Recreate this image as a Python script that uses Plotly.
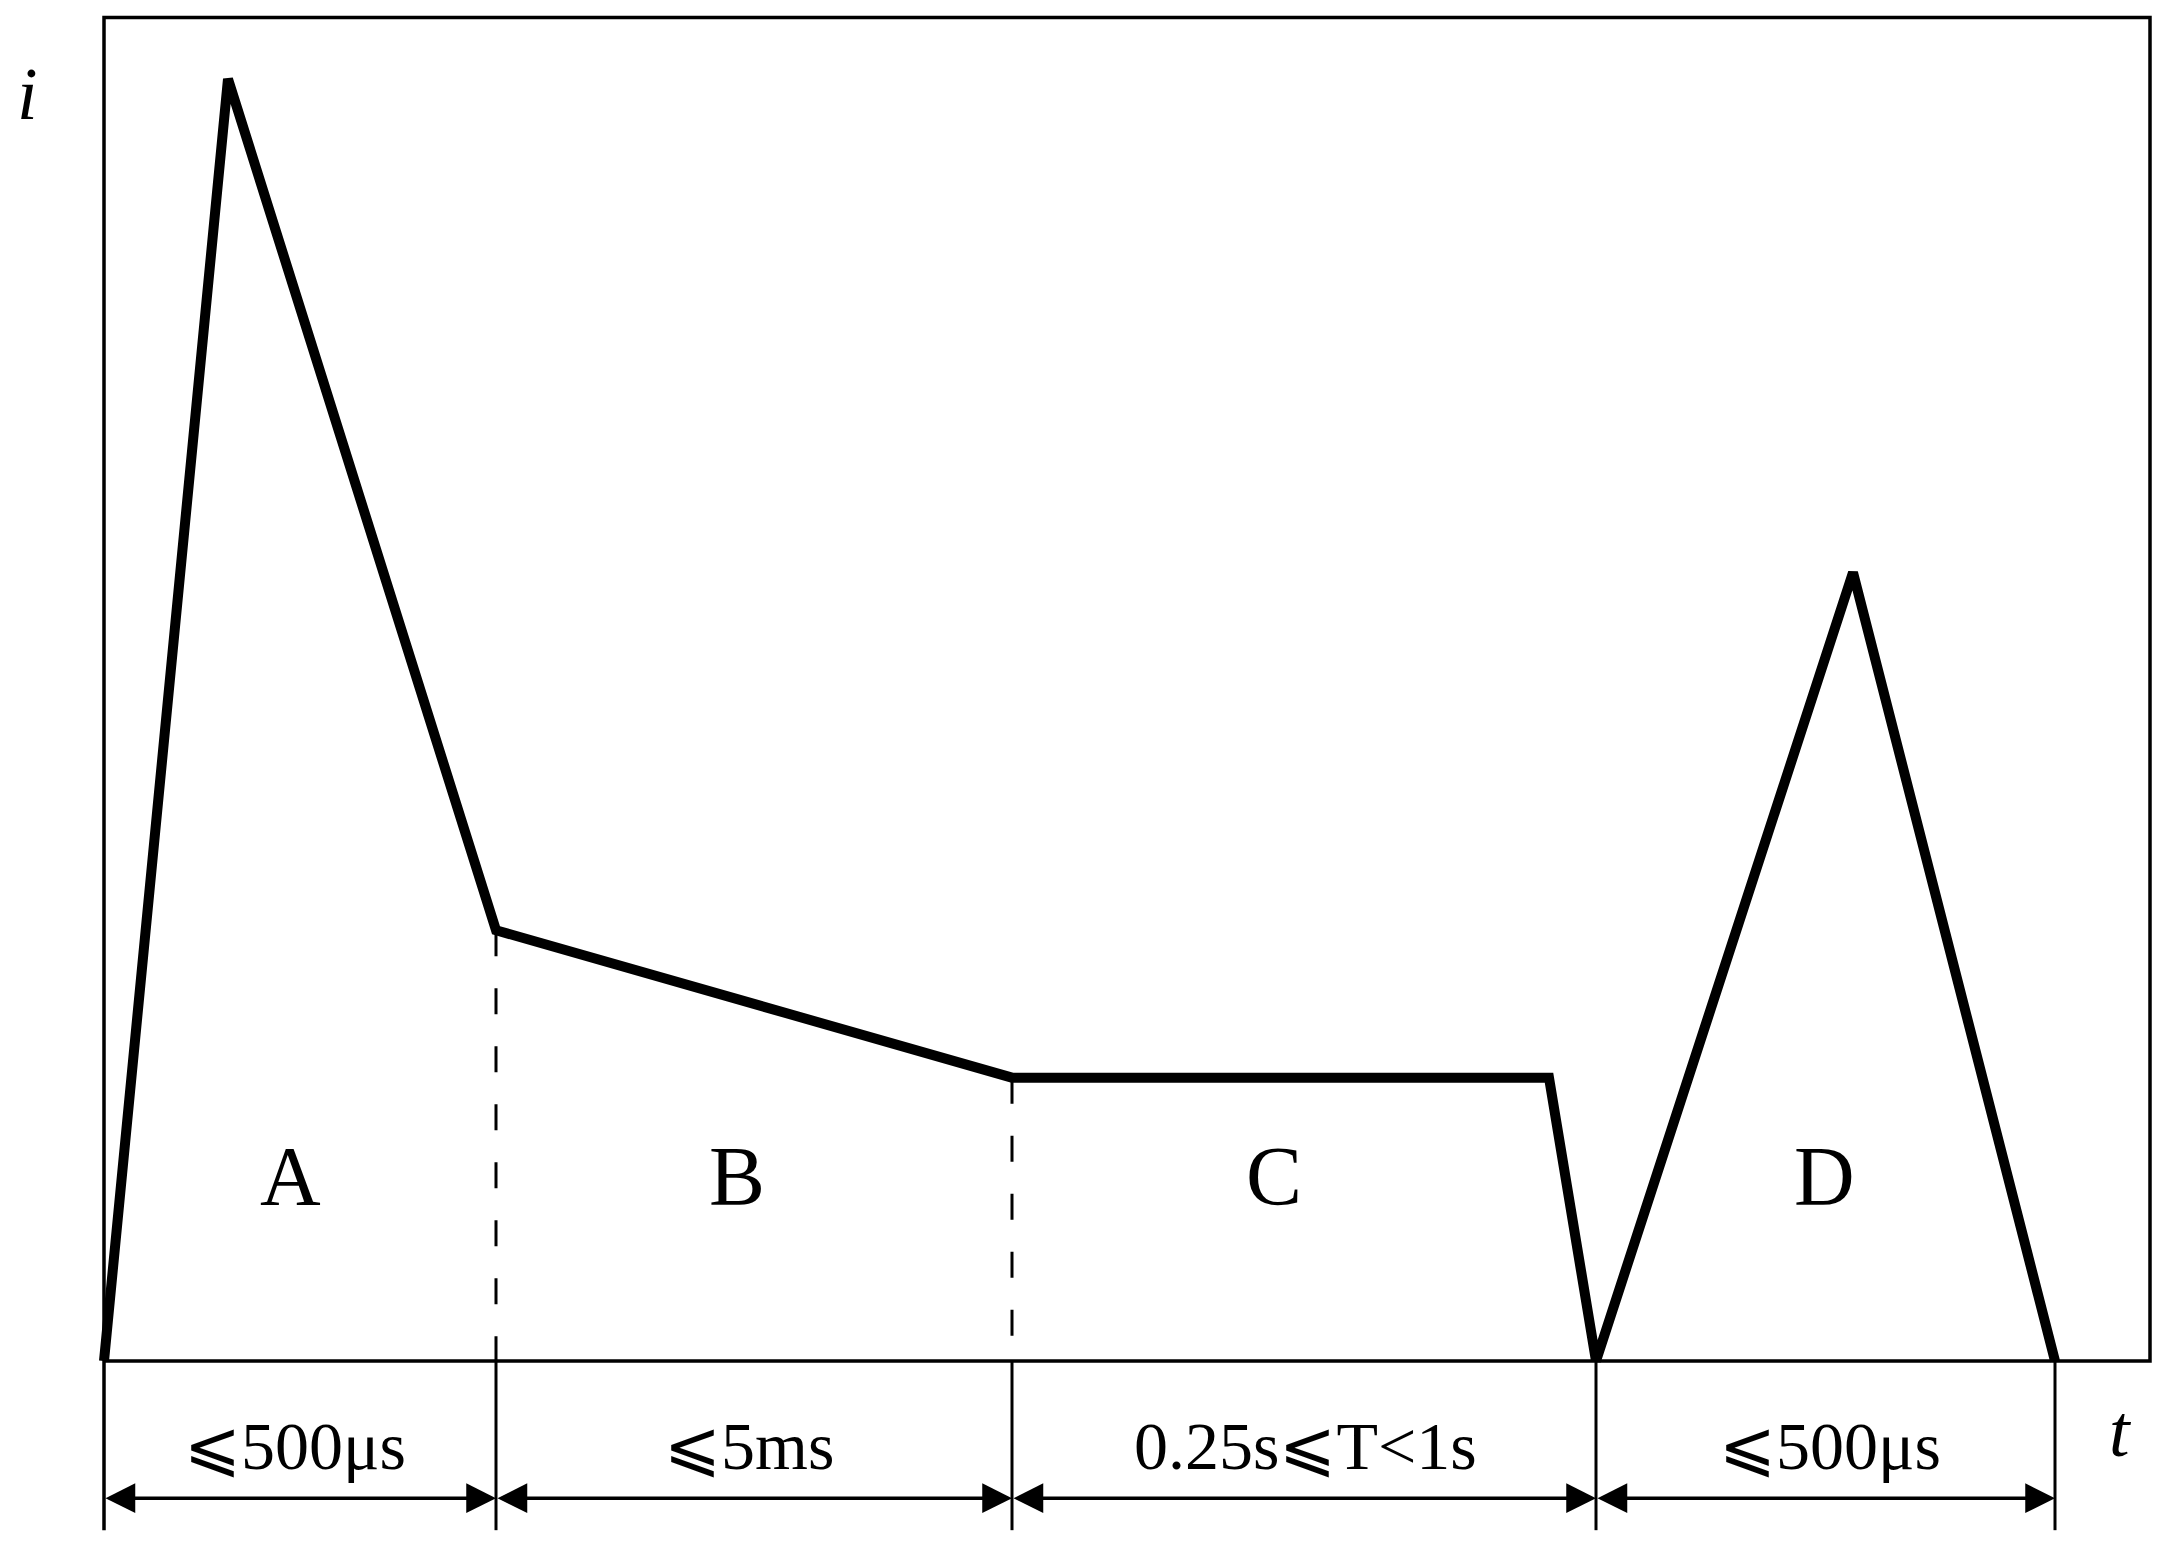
import plotly.graph_objects as go

# waveform corners (t: arbitrary time units, i: % of first peak)
t_wave = [0, 12.4, 39.2, 90.8, 144.5, 149.2, 174.9, 195.1]
i_wave = [0, 100, 33.6, 22.1, 22.1, 0, 61.5, 0]

# boundaries between the four stages
t_bounds = [0, 39.2, 90.8, 149.2, 195.1]
i_bounds = [0, 33.6, 22.1, 0, 0]

region_labels = ["A", "B", "C", "D"]
region_label_t = [18.6, 63.3, 117.0, 172.0]

duration_labels = ["⩽500μs", "⩽5ms", "0.25s⩽T<1s", "⩽500μs"]
duration_label_t = [19.1, 64.5, 120.1, 172.6]

# frame / layout constants
T_MAX = 204.6      # right edge of the box
I_TOP = 104.8      # top edge of the box
I_DIM = -10.7      # height of the dimension arrows
I_EXT = -13.2      # bottom of the extension lines

FONT = "Liberation Serif, DejaVu Serif, Noto Sans CJK SC, serif"
BLACK = "#000000"

fig = go.Figure()

# frame: top, right, bottom (t axis) and left (i axis, extended down)
fig.add_trace(go.Scatter(
    x=[0, 0, T_MAX, T_MAX, 0],
    y=[I_EXT, I_TOP, I_TOP, 0, 0],
    mode="lines",
    line=dict(color=BLACK, width=3.5),
    hoverinfo="skip",
    showlegend=False
))

# dashed guide lines from the knees down to the axis
for t, i in zip(t_bounds, i_bounds):
    if i > 0:
        fig.add_trace(go.Scatter(
            x=[t, t], y=[i, 0],
            mode="lines",
            line=dict(color=BLACK, width=3, dash="26px,32px"),
            hoverinfo="skip",
            showlegend=False
        ))

# solid extension lines below the axis
for t in t_bounds[1:]:
    fig.add_trace(go.Scatter(
        x=[t, t], y=[0, I_EXT],
        mode="lines",
        line=dict(color=BLACK, width=3),
        hoverinfo="skip",
        showlegend=False
    ))

# the current waveform
fig.add_trace(go.Scatter(
    x=t_wave, y=i_wave,
    mode="lines",
    line=dict(color=BLACK, width=10),
    hoverinfo="skip",
    showlegend=False
))

# dimension arrows between the boundaries
for t0, t1 in zip(t_bounds[:-1], t_bounds[1:]):
    fig.add_annotation(
        x=t1, y=I_DIM, ax=t0, ay=I_DIM,
        xref="x", yref="y", axref="x", ayref="y",
        text="", showarrow=True,
        arrowhead=2, arrowside="end+start",
        arrowsize=1.7, arrowwidth=3.5, arrowcolor=BLACK,
        standoff=0, startstandoff=0
    )

# stage letters
for label, t in zip(region_labels, region_label_t):
    fig.add_annotation(
        x=t, y=14.4, xref="x", yref="y",
        text=label, showarrow=False,
        font=dict(family=FONT, size=84, color=BLACK)
    )

# durations
for label, t in zip(duration_labels, duration_label_t):
    fig.add_annotation(
        x=t, y=-6.6, xref="x", yref="y",
        text=label, showarrow=False,
        font=dict(family=FONT, size=68, color=BLACK)
    )

# axis names
fig.add_annotation(
    x=-7.7, y=98.8, xref="x", yref="y",
    text="<i>i</i>", showarrow=False,
    font=dict(family=FONT, size=74, color=BLACK)
)
fig.add_annotation(
    x=201.6, y=-5.5, xref="x", yref="y",
    text="<i>t</i>", showarrow=False,
    font=dict(family=FONT, size=74, color=BLACK)
)

fig.update_layout(
    width=2167,
    height=1553,
    margin=dict(l=0, r=0, t=0, b=0),
    paper_bgcolor="white",
    plot_bgcolor="white",
    xaxis=dict(range=[-10.4, 206.3], visible=False, fixedrange=True),
    yaxis=dict(range=[-14.98, 106.16], visible=False, fixedrange=True),
    showlegend=False
)

fig.write_html(
    "out.html",
    config={"displayModeBar": False},
    post_script="document.body.style.margin='0';"
)
